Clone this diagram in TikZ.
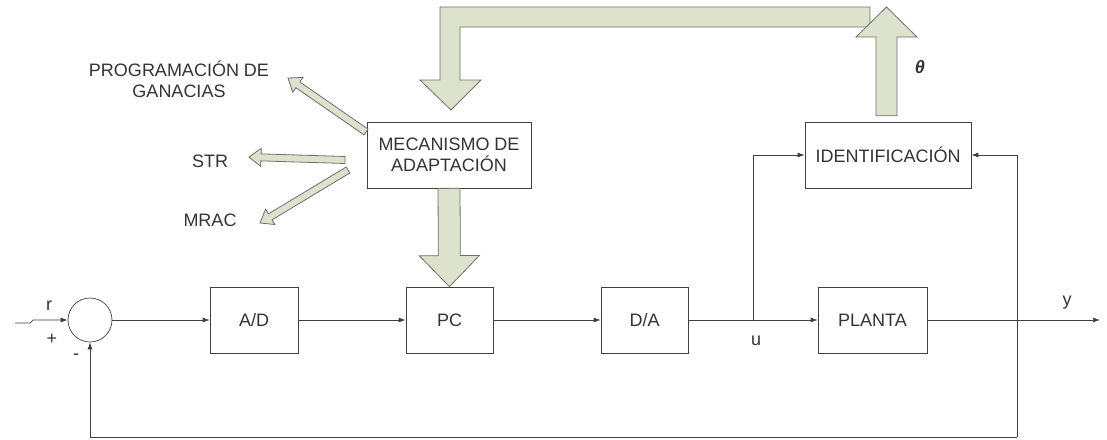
\documentclass[tikz,border=0pt]{standalone}
\usepackage{fontspec}
\setmainfont{Liberation Sans}
\usetikzlibrary{arrows.meta,calc}
\definecolor{fatfill}{RGB}{221,226,204}
\definecolor{fatline}{RGB}{110,110,110}
\tikzset{
  blk/.style={draw=black!75, line width=0.7pt, minimum height=66pt, inner sep=0pt, align=center},
  sig/.style={draw=black!75, line width=0.7pt, -{Latex[length=7pt,width=5pt]}},
  fat/.style={fill=fatfill, draw=fatline, line width=0.8pt, line join=miter}
}
% block arrow: from, to, half shaft, half head, head length
\newcommand{\blockarrow}[5]{%
  \coordinate (ba-h) at ($(#2)!#5!(#1)$);
  \filldraw[fat] ($(#1)!#3!90:(#2)$) -- ($(ba-h)!#3!90:(#2)$) -- ($(ba-h)!#4!90:(#2)$)
    -- (#2) -- ($(ba-h)!#4!-90:(#2)$) -- ($(ba-h)!#3!-90:(#2)$) -- ($(#1)!#3!-90:(#2)$) -- cycle;
}
\begin{document}
\begin{tikzpicture}[x=1pt, y=-1pt, font=\fontsize{18}{21}\selectfont, text=black!80]
      \useasboundingbox (0,0) rectangle (1107,439);
      \draw
        (90,320) node[circle, draw=black!75, line width=0.7pt, minimum size=44pt, inner sep=0pt] (sum){}
        (254,320) node[blk, minimum width=88pt] (ad){A/D}
        (449.5,320) node[blk, minimum width=87pt] (pc){PC}
        (644.5,320) node[blk, minimum width=87pt] (da){D/A}
        (872.5,320) node[blk, minimum width=109pt] (planta){PLANTA}
        (449,155) node[blk, minimum width=164pt] (meca){MECANISMO DE\\ADAPTACIÓN}
        (888,155) node[blk, minimum width=166pt] (ident){IDENTIFICACIÓN};
      \draw
        (49,306) node (r){r}
        (52,339) node (plus){+}
        (76,357) node (minus){-}
        (756,341) node (u){u}
        (1067,303) node (y){y}
        (920,67) node (theta){\textbf{\textit{θ}}}
        (179,79) node[align=center] (prog){PROGRAMACIÓN DE\\GANACIAS}
        (210,161) node (str){STR}
        (210,220) node (mrac){MRAC};
      \coordinate (in) at (15,323);
      \coordinate (ub) at (753.5,320);
      \coordinate (yb) at (1017,320);
      \coordinate (out) at (1100,320);
      \coordinate (fb) at (1017,437);
      \begin{scope}[sig]
        \draw (in) -- ++(15,0) -- ++(3,-3) -- (sum.west);
        \draw (sum) -- (ad);
        \draw (ad) -- (pc);
        \draw (pc) -- (da);
        \draw (da) -- (planta);
        \draw (planta) -- (out);
        \draw (ub) |- (ident.west);
        \draw (fb) |- (ident.east);
        \draw (fb) -| (sum.south);
      \end{scope}
      % fat arrows
      \filldraw[fat] (870,7) -- (440,7) -- (440,80) -- (420,80) -- (451,110) -- (481,80)
        -- (460,80) -- (460,27) -- (870,27) -- cycle;
      \coordinate (th0) at ($(ident.north)+(-1.5,-6)$);
      \coordinate (th1) at (886.5,7);
      \blockarrow{th0}{th1}{10.5pt}{30.5pt}{30pt}
      \blockarrow{meca.south}{pc.north}{11pt}{30pt}{31pt}
      \coordinate (p0) at (366,132);
      \coordinate (p1) at (288,78);
      \coordinate (s0) at (345,160);
      \coordinate (s1) at (249,157);
      \coordinate (m0) at (348,170);
      \coordinate (m1) at (260,223);
      \blockarrow{p0}{p1}{3.5pt}{9pt}{12pt}
      \blockarrow{s0}{s1}{3.5pt}{9pt}{12pt}
      \blockarrow{m0}{m1}{3.5pt}{9pt}{12pt}
    \end{tikzpicture}
\end{document}
